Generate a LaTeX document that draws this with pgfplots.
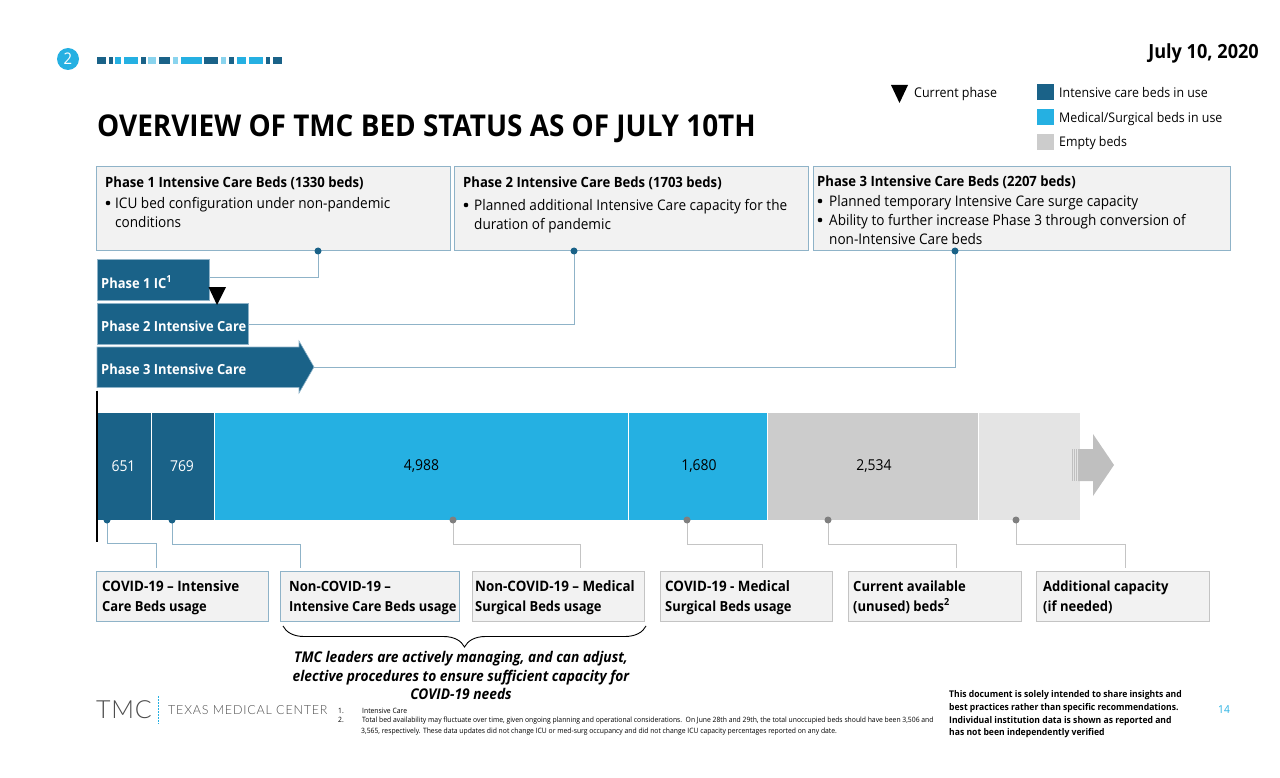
\documentclass[border=0pt]{standalone}
\usepackage{fontspec}
\setmainfont[FakeStretch=0.93]{Open Sans}
\newfontfamily\logofont[LetterSpace=3]{Lato Light}
\newfontfamily\logosmall[LetterSpace=6.5]{Lato Light}
\usepackage{pgfplots}
\pgfplotsset{compat=1.18}
\usetikzlibrary{decorations.pathreplacing}
\definecolor{tmcdark}{HTML}{1A6288}
\definecolor{tmclight}{HTML}{25B0E2}
\definecolor{tmcpale}{HTML}{8AD4EE}
\definecolor{tmcgray}{HTML}{CCCCCC}
\definecolor{tmcpalegray}{HTML}{E4E4E4}
\definecolor{boxfill}{HTML}{F2F2F2}
\definecolor{boxline}{HTML}{8FB3C8}
\definecolor{grayline}{HTML}{C4C4C4}
\definecolor{graydot}{HTML}{7F7F7F}
\definecolor{arrowgray}{HTML}{BFBFBF}
\newcommand{\fs}[1]{\fontsize{#1pt}{#1pt}\selectfont}
% text at pixel position: x, baseline y, size, text
\newcommand{\lbl}[4]{\node[anchor=base west,inner sep=0pt,text=black] at (axis cs:#1,#2) {\fs{#3}#4};}
\newcommand{\stripe}[3]{\fill[#3] (axis cs:#1,57) rectangle (axis cs:#2,64);}
\newcommand{\infobox}[5]{\filldraw[fill=boxfill,draw=#5,line width=1pt] (axis cs:#1,#3) rectangle (axis cs:#2,#4);}
\newcommand{\bul}[2]{\fill[black] (axis cs:#1,#2) circle[radius=2.3pt];}
\begin{document}
\begin{tikzpicture}
\path[use as bounding box] (0pt,0pt) rectangle (1280pt,778pt);
% stacked bed counts
\begin{axis}[
    at={(97pt,258pt)},
    anchor=south west,
    scale only axis,
    width=995.3pt,
    height=108pt,
    xmin=0, xmax=12000,
    ymin=-0.5, ymax=0.5,
    hide axis,
    clip=false,
    xbar stacked,
    bar width=108pt,
]
\addplot[fill=tmcdark,draw=white,line width=0.8pt] coordinates {(651,0)};
\addplot[fill=tmcdark,draw=white,line width=0.8pt] coordinates {(769,0)};
\addplot[fill=tmclight,draw=white,line width=0.8pt] coordinates {(4988,0)};
\addplot[fill=tmclight,draw=white,line width=0.8pt] coordinates {(1680,0)};
\addplot[fill=tmcgray,draw=white,line width=0.8pt] coordinates {(2534,0)};
\addplot[fill=tmcpalegray,draw=white,line width=0.8pt] coordinates {(1240,0)};
\end{axis}
% everything else, in pixel coordinates of the slide
\begin{axis}[
    at={(0pt,0pt)},
    anchor=south west,
    scale only axis,
    width=1280pt,
    height=778pt,
    xmin=0, xmax=1280,
    ymin=0, ymax=778,
    y dir=reverse,
    hide axis,
    clip=false,
]
% bar labels
\node[text=white] at (axis cs:123.5,466) {\fs{15}651};
\node[text=white] at (axis cs:182,466) {\fs{15}769};
\node[text=black] at (axis cs:421.5,466) {\fs{15}4,988};
\node[text=black] at (axis cs:699,466) {\fs{15}1,680};
\node[text=black] at (axis cs:874,466) {\fs{15}2,534};
% header
\fill[tmclight] (axis cs:68,59) circle[radius=11pt];
\node[text=white] at (axis cs:68,59) {\fs{16}2};
\stripe{97}{106}{tmcdark}\stripe{109}{113}{tmcdark}\stripe{115}{121}{tmclight}\stripe{124}{138}{tmclight}
\stripe{141}{146}{tmcdark}\stripe{148}{156}{tmcpale}\stripe{159}{170}{tmcdark}\stripe{173}{178}{tmcpale}
\stripe{181}{202}{tmclight}\stripe{204}{218}{tmcdark}\stripe{221}{226}{tmcpale}\stripe{229}{234}{tmcdark}
\stripe{237}{246}{tmclight}\stripe{249}{263}{tmclight}\stripe{266}{270}{tmcdark}\stripe{273}{282}{tmcdark}
\lbl{97}{137}{30}{\bfseries OVERVIEW OF TMC BED STATUS AS OF JULY 10TH}
\node[anchor=base east,inner sep=0pt] at (axis cs:1259,59) {\fs{19.5}\bfseries July 10, 2020};
% legend
\fill[black] (axis cs:891,85) -- (axis cs:908,85) -- (axis cs:899.5,103) -- cycle;
\lbl{914}{98}{13.4}{Current phase}
\fill[tmcdark] (axis cs:1037,84) rectangle (axis cs:1054,100);
\fill[tmclight] (axis cs:1037,109) rectangle (axis cs:1054,125);
\fill[tmcgray] (axis cs:1037,134) rectangle (axis cs:1054,150);
\lbl{1059}{98}{13.3}{Intensive care beds in use}
\lbl{1059}{123}{13.3}{Medical/Surgical beds in use}
\lbl{1059}{147}{13.3}{Empty beds}
% phase boxes
\infobox{96.5}{450.5}{166.5}{251}{boxline}
\infobox{454.5}{808}{166.5}{251}{boxline}
\infobox{813.5}{1230}{166.5}{251}{boxline}
\lbl{105}{188}{14.1}{\bfseries Phase 1 Intensive Care Beds (1330 beds)}
\bul{108}{203}\lbl{115}{209}{14.6}{ICU bed configuration under non-pandemic}
\lbl{115}{228}{14.6}{conditions}
\lbl{463}{188}{14.1}{\bfseries Phase 2 Intensive Care Beds (1703 beds)}
\bul{466}{205}\lbl{474}{211}{14.6}{Planned additional Intensive Care capacity for the}
\lbl{474}{230}{14.6}{duration of pandemic}
\lbl{817}{187}{14.1}{\bfseries Phase 3 Intensive Care Beds (2207 beds)}
\bul{820}{201}\lbl{829}{207}{14.6}{Planned temporary Intensive Care surge capacity}
\bul{820}{220}\lbl{829}{226}{14.6}{Ability to further increase Phase 3 through conversion of}
\lbl{829}{244}{14.6}{non-Intensive Care beds}
% connectors from the phase boxes
\draw[boxline,line width=1pt] (axis cs:318,251) -- (axis cs:318,277) -- (axis cs:210,277);
\draw[boxline,line width=1pt] (axis cs:574,251) -- (axis cs:574,324) -- (axis cs:248,324);
\draw[boxline,line width=1pt] (axis cs:955,251) -- (axis cs:955,367) -- (axis cs:314,367);
\fill[tmcdark] (axis cs:318,251) circle[radius=3.5pt];
\fill[tmcdark] (axis cs:574,251) circle[radius=3.5pt];
\fill[tmcdark] (axis cs:955,251) circle[radius=3.5pt];
% phase bars
\addplot[fill=tmcdark,draw=boxline,line width=0.6pt] coordinates {(97,259.5)(209.5,259.5)(209.5,300.5)(97,300.5)} -- cycle;
\addplot[fill=tmcdark,draw=boxline,line width=0.6pt] coordinates {(97,303)(248.5,303)(248.5,344)(97,344)} -- cycle;
\addplot[fill=tmcdark,draw=boxline,line width=0.6pt] coordinates {(97,347)(299,347)(299,341)(314,367)(299,393)(299,387.5)(97,387.5)} -- cycle;
\lbl{101}{288}{13.9}{\color{white}\bfseries Phase 1 IC\textsuperscript{1}}
\lbl{101}{331}{13.9}{\color{white}\bfseries Phase 2 Intensive Care}
\lbl{101}{374}{13.9}{\color{white}\bfseries Phase 3 Intensive Care}
\fill[black] (axis cs:208.5,287) -- (axis cs:226,287) -- (axis cs:217,305) -- cycle;
% start line
\draw[black,line width=2pt] (axis cs:97,390.5) -- (axis cs:97,542);
% arrow at the end of the bar
\fill[arrowgray] (axis cs:1078,449) -- (axis cs:1093,449) -- (axis cs:1093,434) -- (axis cs:1114,465) -- (axis cs:1093,496) -- (axis cs:1093,481) -- (axis cs:1078,481) -- cycle;
\fill[arrowgray] (axis cs:1072,449) rectangle (axis cs:1073,481);
\fill[arrowgray] (axis cs:1074,449) rectangle (axis cs:1075,481);
\fill[arrowgray] (axis cs:1076,449) rectangle (axis cs:1077,481);
% connectors under the bar
\draw[boxline,line width=1pt] (axis cs:107,520) -- (axis cs:107,543) -- (axis cs:156,543) -- (axis cs:156,568);
\draw[boxline,line width=1pt] (axis cs:172,520) -- (axis cs:172,544) -- (axis cs:300,544) -- (axis cs:300,568);
\draw[grayline,line width=1pt] (axis cs:453,520) -- (axis cs:453,544) -- (axis cs:580,544) -- (axis cs:580,568);
\draw[grayline,line width=1pt] (axis cs:687,520) -- (axis cs:687,544) -- (axis cs:762,544) -- (axis cs:762,568);
\draw[grayline,line width=1pt] (axis cs:828,520) -- (axis cs:828,544) -- (axis cs:956,544) -- (axis cs:956,568);
\draw[grayline,line width=1pt] (axis cs:1016,520) -- (axis cs:1016,544) -- (axis cs:1125,544) -- (axis cs:1125,568);
\fill[tmcdark] (axis cs:107,520) circle[radius=3.5pt];
\fill[tmcdark] (axis cs:172,520) circle[radius=3.5pt];
\fill[graydot] (axis cs:453,520) circle[radius=3.5pt];
\fill[graydot] (axis cs:687,520) circle[radius=3.5pt];
\fill[graydot] (axis cs:828,520) circle[radius=3.5pt];
\fill[graydot] (axis cs:1016,520) circle[radius=3.5pt];
% boxes under the bar
\infobox{96}{268}{571}{621}{boxline}
\infobox{280.5}{459.5}{571}{621}{boxline}
\infobox{472}{644}{571}{621}{grayline}
\infobox{660}{832}{571}{621}{grayline}
\infobox{848}{1021}{571}{621}{grayline}
\infobox{1036}{1209}{571}{621}{grayline}
\lbl{102}{591}{14.4}{\bfseries COVID-19 -- Intensive}
\lbl{102}{611}{13.9}{\bfseries Care Beds usage}
\lbl{289}{591}{14.1}{\bfseries Non-COVID-19 --}
\lbl{289}{611}{13.85}{\bfseries Intensive Care Beds usage}
\lbl{475}{591}{14.4}{\bfseries Non-COVID-19 -- Medical}
\lbl{475}{611}{13.9}{\bfseries Surgical Beds usage}
\lbl{665}{591}{14.4}{\bfseries COVID-19 - Medical}
\lbl{665}{611}{13.9}{\bfseries Surgical Beds usage}
\lbl{853}{591}{14}{\bfseries Current available}
\lbl{853}{611}{14}{\bfseries (unused) beds\textsuperscript{2}}
\lbl{1043}{591}{14}{\bfseries Additional capacity}
\lbl{1043}{611}{14}{\bfseries (if needed)}
% brace and note
\draw[black,line width=0.9pt,decorate,decoration={brace,amplitude=21pt}] (axis cs:646,626) -- (axis cs:283,626);
\node[anchor=base,inner sep=0pt] at (axis cs:461,662) {\fs{14.8}\bfseries\itshape TMC leaders are actively managing, and can adjust,};
\node[anchor=base,inner sep=0pt] at (axis cs:461,681) {\fs{14.8}\bfseries\itshape elective procedures to ensure sufficient capacity for};
\node[anchor=base,inner sep=0pt] at (axis cs:461,699) {\fs{14.8}\bfseries\itshape COVID-19 needs};
% footer
\node[anchor=base west,inner sep=0pt,text=black!70] at (axis cs:96,718) {\fs{25}\logofont TMC};
\draw[tmclight,line width=1pt,dash pattern=on 2pt off 1pt] (axis cs:158,696) -- (axis cs:158,724);
\node[anchor=base west,inner sep=0pt,text=black!70] at (axis cs:168,714) {\fs{12.5}\logosmall TEXAS MEDICAL CENTER};
\lbl{338}{713}{7.3}{1.}\lbl{362}{713}{7.3}{Intensive Care}
\lbl{338}{722}{7.3}{2.}\lbl{362}{722}{7.3}{Total bed availability may fluctuate over time, given ongoing planning and operational considerations.\ \ On June 28th and 29th, the total unoccupied beds should have been 3,506 and}
\lbl{361}{733}{7.3}{3,565, respectively. These data updates did not change ICU or med-surg occupancy and did not change ICU capacity percentages reported on any date.}
\lbl{949}{697}{9.25}{\bfseries This document is solely intended to share insights and}
\lbl{949}{710}{9.25}{\bfseries best practices rather than specific recommendations.}
\lbl{949}{723}{9.25}{\bfseries Individual institution data is shown as reported and}
\lbl{949}{735}{9.25}{\bfseries has not been independently verified}
\node[anchor=base west,inner sep=0pt,text=tmclight] at (axis cs:1218,713) {\fs{11}14};
\end{axis}
\end{tikzpicture}
\end{document}
